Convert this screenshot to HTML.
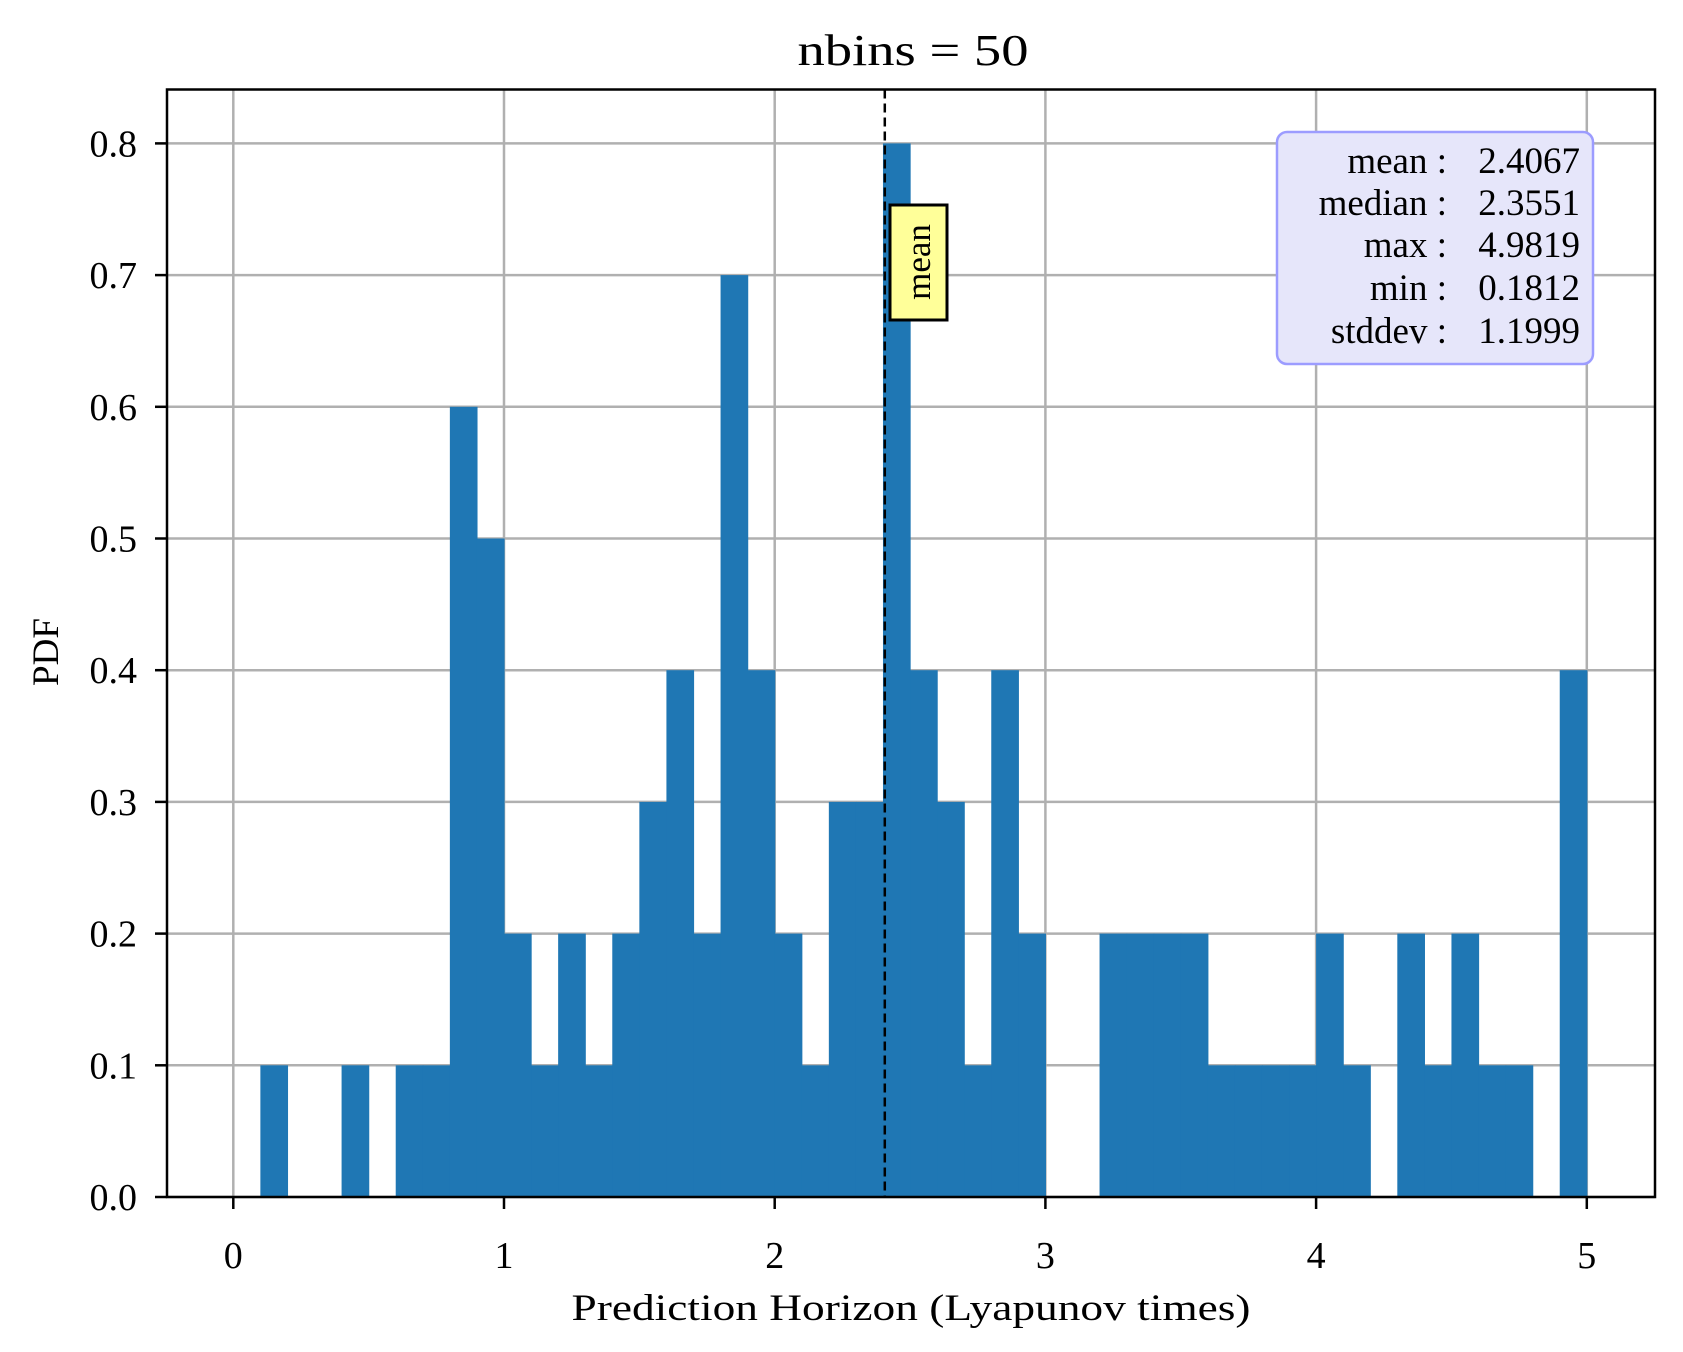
<!DOCTYPE html>
<html><head><meta charset="utf-8"><style>
html,body{margin:0;padding:0;background:#fff;}
svg{display:block;font-family:"Liberation Serif","DejaVu Serif",serif;}
</style></head><body>
<svg id="chart" width="1683" height="1352" viewBox="0 0 1683 1352" xmlns="http://www.w3.org/2000/svg">
<rect x="0" y="0" width="1683" height="1352" fill="#fff"/>
<g id="grid"></g>
<g id="bars"></g>
<g id="ticks"></g>
<line id="meanline" stroke="#000" stroke-width="2.5" stroke-dasharray="9,5"/>
<rect x="167" y="89.5" width="1488" height="1107.5" fill="none" stroke="#000" stroke-width="2.5"/>
<text x="913" y="65" font-size="44" text-anchor="middle" textLength="231" lengthAdjust="spacingAndGlyphs">nbins = 50</text>
<text x="911" y="1320" font-size="37" text-anchor="middle" textLength="679" lengthAdjust="spacingAndGlyphs">Prediction Horizon (Lyapunov times)</text>
<text x="0" y="0" font-size="37" text-anchor="middle" transform="translate(58,652) rotate(-90)">PDF</text>
<g id="meanlabel">
<rect x="890" y="205" width="57" height="115" fill="#ffff99" stroke="#000" stroke-width="3"/>
<text x="0" y="0" font-size="35" text-anchor="middle" transform="translate(930,262) rotate(-90)">mean</text>
</g>
<g>
<rect x="1277" y="132" width="316" height="232" rx="10" fill="#e6e6fa" stroke="#9c9cff" stroke-width="2.5"/>
<g font-size="37">
<g text-anchor="end">
<text x="1447" y="173">mean :</text>
<text x="1447" y="215">median :</text>
<text x="1447" y="257">max :</text>
<text x="1447" y="300">min :</text>
<text x="1447" y="343">stddev :</text>
</g>
<g text-anchor="end">
<text x="1580" y="173">2.4067</text>
<text x="1580" y="215">2.3551</text>
<text x="1580" y="257">4.9819</text>
<text x="1580" y="300">0.1812</text>
<text x="1580" y="343">1.1999</text>
</g>
</g>
</g>
</svg>
<script>
const binStarts = [0.1,0.4,0.6,0.7,0.8,0.9,1.0,1.1,1.2,1.3,1.4,1.5,1.6,1.7,1.8,1.9,2.0,2.1,2.2,2.3,2.4,2.5,2.6,2.7,2.8,2.9,3.2,3.3,3.4,3.5,3.6,3.7,3.8,3.9,4.0,4.1,4.3,4.4,4.5,4.6,4.7,4.9];
const binHeights = [0.1,0.1,0.1,0.1,0.6,0.5,0.2,0.1,0.2,0.1,0.2,0.3,0.4,0.2,0.7,0.4,0.2,0.1,0.3,0.3,0.8,0.4,0.3,0.1,0.4,0.2,0.2,0.2,0.2,0.2,0.1,0.1,0.1,0.1,0.2,0.1,0.2,0.1,0.2,0.1,0.1,0.4];
const binWidth = 0.1;
const meanValue = 2.4067;
const xTicks = [0,1,2,3,4,5];
const yTicks = [0.0,0.1,0.2,0.3,0.4,0.5,0.6,0.7,0.8];
const NS = "http://www.w3.org/2000/svg";
function xs(v){return 233.3 + v*270.7;}
function ys(v){return 1197 - v*1317;}
function mk(tag, attrs, parent){const e=document.createElementNS(NS,tag);for(const k in attrs)e.setAttribute(k,attrs[k]);parent.appendChild(e);return e;}
const grid=document.getElementById('grid'), bars=document.getElementById('bars'), ticks=document.getElementById('ticks');
xTicks.forEach(t=>{
  const g=mk('line',{x1:xs(t),x2:xs(t),y1:89.5,y2:1197,stroke:'#b0b0b0','stroke-width':2.5},grid);
  
  
  const tk=mk('line',{x1:xs(t),x2:xs(t),y1:1197,y2:1209,stroke:'#000','stroke-width':2.5},ticks);
  
  
  const lb=mk('text',{x:xs(t),y:1268,'font-size':38,'text-anchor':'middle'},ticks);
  lb.textContent=String(t);
  
  
});
yTicks.forEach(t=>{
  const g=mk('line',{x1:167,x2:1655,y1:ys(t),y2:ys(t),stroke:'#b0b0b0','stroke-width':2.5},grid);
  
  
  const tk=mk('line',{x1:155,x2:167,y1:ys(t),y2:ys(t),stroke:'#000','stroke-width':2.5},ticks);
  
  
  const lb=mk('text',{x:137,y:ys(t)+13,'font-size':38,'text-anchor':'end'},ticks);
  lb.textContent=t.toFixed(1);
  
  
});
binStarts.forEach((s,i)=>{
  const x1=xs(s), x2=xs(s+binWidth), y=ys(binHeights[i]);
  const r=mk('rect',{x:x1,y:y,width:x2-x1+0.6,height:1197-y,fill:'#1f77b4'},bars);
  
  
});
const ml=document.getElementById('meanline');
ml.setAttribute('x1',xs(meanValue));ml.setAttribute('x2',xs(meanValue));
ml.setAttribute('y1',89.5);ml.setAttribute('y2',1197);
</script>
</body></html>
